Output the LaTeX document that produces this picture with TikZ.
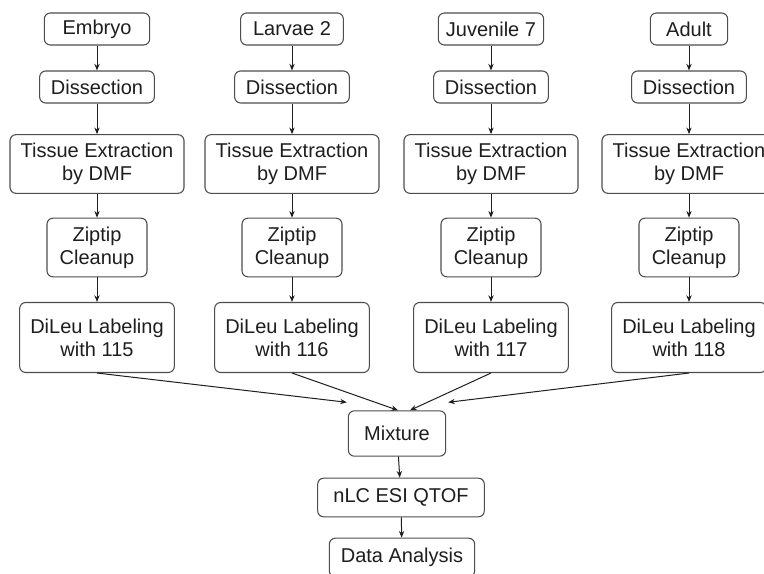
\documentclass[tikz,border=0pt]{standalone}
\usepackage{fontspec}
\setmainfont{Liberation Sans}
\usetikzlibrary{arrows.meta}
\definecolor{boxgray}{HTML}{4D4D4D}
\definecolor{txtgray}{HTML}{1E1E1E}
\tikzset{
  box/.style={draw=boxgray, line width=0.8pt, rounded corners=4.5pt, fill=white,
    align=center, inner sep=1pt, text=txtgray, font=\fontsize{15}{17.25}\selectfont},
  stagebox/.style={box, minimum height=24pt},
  dissectbox/.style={box, minimum width=86pt, minimum height=24pt},
  extractbox/.style={box, minimum width=130.5pt, minimum height=44pt},
  zipbox/.style={box, minimum width=75pt, minimum height=44pt},
  labelbox/.style={box, minimum width=116pt, minimum height=52.5pt},
  flow/.style={->, draw=txtgray, line width=0.75pt}
}
\begin{document}
\begin{tikzpicture}[>={Stealth[length=5pt,width=4pt]}, x=0.75pt, y=-0.75pt]
  \useasboundingbox (0,0) rectangle (764,574);
  % four sample columns
  \foreach \n/\cx/\stage/\w/\tag in {1/97/Embryo/79/115, 2/292/Larvae 2/77/116,
      3/491/Juvenile 7/79/117, 4/689/Adult/58/118} {
    \node[stagebox, minimum width=\w pt] (stage\n) at (\cx,29) {\stage};
    \node[dissectbox] (dis\n) at (\cx,87) {Dissection};
    \node[extractbox] (ext\n) at (\cx,164) {Tissue Extraction\\by DMF};
    \node[zipbox] (zip\n) at (\cx,247.5) {Ziptip\\Cleanup};
    \node[labelbox] (lab\n) at (\cx,337.5) {DiLeu Labeling\\with \tag};
    \draw[flow] (stage\n) -- (dis\n);
    \draw[flow] (dis\n) -- (ext\n);
    \draw[flow] (ext\n) -- (zip\n);
    \draw[flow] (zip\n) -- (lab\n);
  }
  % pooled sample
  \node[box, minimum width=73pt, minimum height=34pt] (mix) at (397,433.5) {Mixture};
  \node[box, minimum width=125pt, minimum height=29pt] (lcms) at (401,497.5) {nLC ESI QTOF};
  \node[box, minimum width=109pt, minimum height=29pt] (data) at (402,557.5) {Data Analysis};
  \coordinate (in1) at ([shift={(-1,-8)}]mix.north west);
  \coordinate (in2) at ([shift={(1,0)}]mix.north);
  \coordinate (in3) at ([shift={(13,0)}]mix.north);
  \coordinate (in4) at ([shift={(2,-8)}]mix.north east);
  \foreach \n in {1,...,4} \draw[flow] (lab\n.south) -- (in\n);
  \draw[flow] (mix) -- (lcms);
  \draw[flow] (lcms) -- (data);
\end{tikzpicture}
\end{document}
